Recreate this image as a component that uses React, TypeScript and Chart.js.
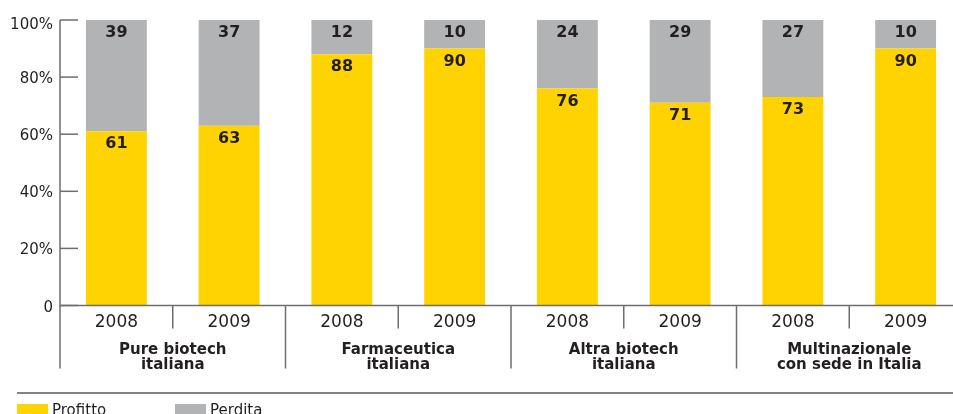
import React, { useEffect, useRef } from "react";
import { Chart, registerables } from "chart.js";

Chart.register(...registerables);

const categories = ["2008", "2009", "2008", "2009", "2008", "2009", "2008", "2009"];
const groupLabels = [
  ["Pure biotech", "italiana"],
  ["Farmaceutica", "italiana"],
  ["Altra biotech", "italiana"],
  ["Multinazionale", "con sede in Italia"],
];
const profitto = [61, 63, 88, 90, 76, 71, 73, 90];
const perdita = [39, 37, 12, 10, 24, 29, 27, 10];
const yTicks = [0, 20, 40, 60, 80, 100];
const seriesNames = ["Profitto", "Perdita"];

const YELLOW = "#FFD300";
const GRAY = "#B2B3B5";
const TEXT = "#231F20";
const LINE = "#6E6E6E";

const overlay = {
  id: "overlay",
  afterDraw(chart: any) {
    const ctx = chart.ctx;
    const x = chart.scales.x;
    const y = chart.scales.y;
    const area = chart.chartArea;
    const y0 = y.getPixelForValue(0);
    ctx.save();

    // data labels
    ctx.fillStyle = TEXT;
    ctx.font = "bold 16px 'DejaVu Sans'";
    ctx.textAlign = "center";
    ctx.textBaseline = "alphabetic";
    chart.data.datasets.forEach((ds: any, di: number) => {
      const meta = chart.getDatasetMeta(di);
      meta.data.forEach((bar: any, i: number) => {
        ctx.fillText(String(ds.data[i]), bar.x, bar.y + 17);
      });
    });

    // axes
    ctx.strokeStyle = LINE;
    ctx.lineWidth = 1.5;
    ctx.beginPath();
    ctx.moveTo(area.left, y.getPixelForValue(100));
    ctx.lineTo(area.left, y0);
    ctx.lineTo(chart.width, y0);
    ctx.stroke();

    // y ticks
    ctx.font = "15px 'DejaVu Sans'";
    ctx.textAlign = "right";
    yTicks.forEach((v) => {
      const py = y.getPixelForValue(v);
      ctx.beginPath();
      ctx.moveTo(area.left, py);
      ctx.lineTo(area.left + 18, py);
      ctx.stroke();
      const lab = v === 0 ? "0" : v + "%";
      ctx.fillText(lab, area.left - 7, Math.max(py + 6, 29));
    });

    // separators
    const n = categories.length;
    for (let i = 0; i <= n; i++) {
      let bx: number;
      if (i === 0) bx = area.left;
      else if (i === n) bx = area.right;
      else bx = (x.getPixelForValue(i - 1) + x.getPixelForValue(i)) / 2;
      const long = i % 2 === 0;
      ctx.beginPath();
      ctx.moveTo(bx, y0);
      ctx.lineTo(bx, long ? y0 + 63 : y0 + 23);
      ctx.stroke();
    }

    // year labels
    ctx.font = "17px 'DejaVu Sans'";
    ctx.textAlign = "center";
    categories.forEach((c, i) => {
      ctx.fillText(c, x.getPixelForValue(i), y0 + 21);
    });

    // group labels
    ctx.font = "bold 15px 'DejaVu Sans'";
    groupLabels.forEach((lines, g) => {
      const cx = (x.getPixelForValue(2 * g) + x.getPixelForValue(2 * g + 1)) / 2;
      lines.forEach((l, k) => {
        ctx.fillText(l, cx, y0 + 48.5 + k * 15);
      });
    });

    // legend rule
    ctx.strokeStyle = "#5A5A5A";
    ctx.beginPath();
    ctx.moveTo(17, 393);
    ctx.lineTo(chart.width, 393);
    ctx.stroke();

    // legend
    const legendX = [17, 175];
    const colors = [YELLOW, GRAY];
    ctx.font = "15px 'DejaVu Sans'";
    ctx.textAlign = "left";
    seriesNames.forEach((name, i) => {
      ctx.fillStyle = colors[i];
      ctx.fillRect(legendX[i], 404, 31, 12);
      ctx.fillStyle = TEXT;
      ctx.fillText(name, legendX[i] + 35, 415);
    });

    ctx.restore();
  },
};

export default function App() {
  const ref = useRef<HTMLCanvasElement>(null);
  useEffect(() => {
    if (!ref.current) return;
    const chart = new Chart(ref.current, {
      type: "bar",
      data: {
        labels: categories,
        datasets: [
          { label: seriesNames[0], data: profitto, backgroundColor: YELLOW, borderWidth: 0 },
          { label: seriesNames[1], data: perdita, backgroundColor: GRAY, borderWidth: 0 },
        ],
      },
      options: {
        responsive: false,
        animation: false,
        layout: { padding: { left: 60, top: 20, right: 8, bottom: 108.5 } },
        datasets: { bar: { barPercentage: 0.54, categoryPercentage: 1 } } as any,
        plugins: { legend: { display: false }, tooltip: { enabled: false } },
        scales: {
          x: { stacked: true, display: false },
          y: { stacked: true, display: false, min: 0, max: 100 },
        },
      },
      plugins: [overlay],
    });
    return () => chart.destroy();
  }, []);
  return (
    <div
      style={{
        position: "fixed",
        left: 0,
        top: 0,
        width: 953,
        height: 414,
        overflow: "hidden",
        background: "#fff",
      }}
    >
      <canvas ref={ref} width={970} height={414} style={{ display: "block" }} />
    </div>
  );
}
